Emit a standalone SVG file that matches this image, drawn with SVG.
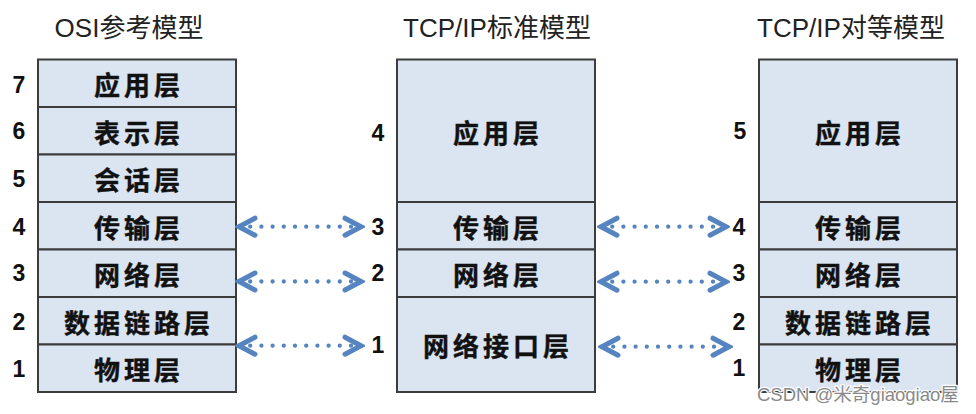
<svg xmlns="http://www.w3.org/2000/svg" width="976" height="414" viewBox="0 0 976 414">
<style>
.bg{fill:#ffffff}
.cell{fill:#dbe5f1;stroke:#3c3c3c;stroke-width:2}
.lbl{font-family:"Noto Sans CJK SC","Liberation Sans",sans-serif;font-weight:bold;font-size:26px;letter-spacing:4px;fill:#111;text-anchor:middle;stroke:#111;stroke-width:0.4}
.num{font-family:"Liberation Sans",Arial,sans-serif;font-weight:bold;font-size:23px;fill:#111;text-anchor:middle}
.ttl{font-family:"Liberation Sans","Noto Sans CJK SC",sans-serif;font-size:26px;fill:#222;text-anchor:middle}
.dots{fill:none;stroke:#5584c0;stroke-width:4.3;stroke-linecap:round;stroke-dasharray:0 11.2}
.wm{font-family:"Liberation Sans","Noto Sans CJK SC",sans-serif;font-size:18.5px;fill:#8a8a8a;stroke:#ffffff;stroke-width:2.5;paint-order:stroke;stroke-linejoin:round}
</style>
<defs>
<marker id="chev" markerUnits="userSpaceOnUse" viewBox="-22 -12 26 24" refX="0" refY="0" markerWidth="26" markerHeight="24" orient="auto-start-reverse">
<path d="M-16,-8.5 L0,0 L-16,8.5" fill="none" stroke="#5584c0" stroke-width="5" stroke-linejoin="miter" stroke-linecap="round"/>
</marker>
</defs>
<rect class="bg" x="0" y="0" width="976" height="414"/>

<text class="ttl" x="129" y="37">OSI参考模型</text>
<text class="ttl" x="497" y="37">TCP/IP标准模型</text>
<text class="ttl" x="851" y="37">TCP/IP对等模型</text>

<g id="osi">
<g id="osi-7"><rect class="cell" x="38" y="59.5" width="198" height="47.5"/><text class="lbl" x="139" y="95">应用层</text><text class="num" x="19" y="93">7</text></g>
<g id="osi-6"><rect class="cell" x="38" y="107" width="198" height="47.5"/><text class="lbl" x="139" y="142.5">表示层</text><text class="num" x="19" y="139">6</text></g>
<g id="osi-5"><rect class="cell" x="38" y="154.5" width="198" height="47.5"/><text class="lbl" x="139" y="190">会话层</text><text class="num" x="19" y="187">5</text></g>
<g id="osi-4"><rect class="cell" x="38" y="202" width="198" height="47.5"/><text class="lbl" x="139" y="237.5">传输层</text><text class="num" x="19" y="235">4</text></g>
<g id="osi-3"><rect class="cell" x="38" y="249.5" width="198" height="47.5"/><text class="lbl" x="139" y="285">网络层</text><text class="num" x="19" y="281">3</text></g>
<g id="osi-2"><rect class="cell" x="38" y="297" width="198" height="47.5"/><text class="lbl" x="139" y="332.5">数据链路层</text><text class="num" x="19" y="330">2</text></g>
<g id="osi-1"><rect class="cell" x="38" y="344.5" width="198" height="47.5"/><text class="lbl" x="139" y="380">物理层</text><text class="num" x="19" y="377">1</text></g>
</g>

<g id="tcpip">
<g id="tcp-4"><rect class="cell" x="397" y="59.5" width="198" height="142.5"/><text class="lbl" x="498" y="143">应用层</text><text class="num" x="378" y="141">4</text></g>
<g id="tcp-3"><rect class="cell" x="397" y="202" width="198" height="47.5"/><text class="lbl" x="498" y="237.5">传输层</text><text class="num" x="378" y="235">3</text></g>
<g id="tcp-2"><rect class="cell" x="397" y="249.5" width="198" height="47.5"/><text class="lbl" x="498" y="285">网络层</text><text class="num" x="378" y="281">2</text></g>
<g id="tcp-1"><rect class="cell" x="397" y="297" width="198" height="95"/><text class="lbl" x="498" y="356">网络接口层</text><text class="num" x="378" y="353">1</text></g>
</g>

<g id="peer">
<g id="peer-5"><rect class="cell" x="759" y="59.5" width="198" height="142.5"/><text class="lbl" x="860" y="143">应用层</text><text class="num" x="740" y="139">5</text></g>
<g id="peer-4"><rect class="cell" x="759" y="202" width="198" height="47.5"/><text class="lbl" x="860" y="237.5">传输层</text><text class="num" x="739" y="235">4</text></g>
<g id="peer-3"><rect class="cell" x="759" y="249.5" width="198" height="47.5"/><text class="lbl" x="860" y="285">网络层</text><text class="num" x="739" y="281">3</text></g>
<g id="peer-2"><rect class="cell" x="759" y="297" width="198" height="47.5"/><text class="lbl" x="860" y="332.5">数据链路层</text><text class="num" x="739" y="330">2</text></g>
<g id="peer-1"><rect class="cell" x="759" y="344.5" width="198" height="47.5"/><text class="lbl" x="860" y="380">物理层</text><text class="num" x="739" y="376">1</text></g>
</g>

<g id="connectors">
<path class="dots" d="M239,226.7 H361" marker-start="url(#chev)" marker-end="url(#chev)"/>
<path class="dots" d="M239,281.5 H361" marker-start="url(#chev)" marker-end="url(#chev)"/>
<path class="dots" d="M239,345.7 H361" marker-start="url(#chev)" marker-end="url(#chev)"/>
<path class="dots" d="M601,226.7 H726" marker-start="url(#chev)" marker-end="url(#chev)"/>
<path class="dots" d="M601,281.7 H726" marker-start="url(#chev)" marker-end="url(#chev)"/>
<path class="dots" d="M602,346.7 H729" marker-start="url(#chev)" marker-end="url(#chev)"/>
</g>

<text class="wm" x="757" y="401">CSDN @米奇giaogiao屋</text>
</svg>
